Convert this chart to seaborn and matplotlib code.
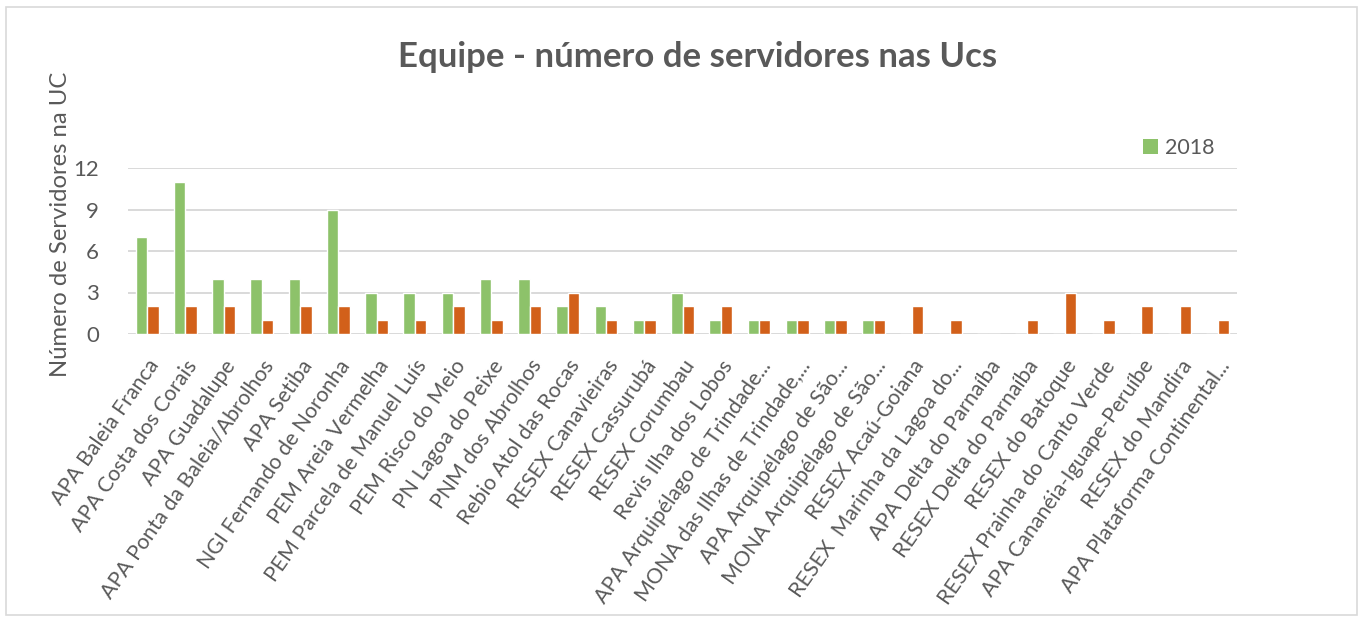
import matplotlib
matplotlib.use("Agg")
import matplotlib.pyplot as plt
import seaborn as sns
import pandas as pd
from matplotlib.patches import Rectangle, Patch

categories = [
    "APA Baleia Franca", "APA Costa dos Corais", "APA Guadalupe",
    "APA Ponta da Baleia/Abrolhos", "APA Setiba", "NGI Fernando de Noronha",
    "PEM Areia Vermelha", "PEM Parcela de Manuel Luís", "PEM Risco do Meio",
    "PN Lagoa do Peixe", "PNM dos Abrolhos", "Rebio Atol das Rocas",
    "RESEX Canavieiras", "RESEX Cassurubá", "RESEX Corumbau",
    "Revis Ilha dos Lobos", "APA Arquipélago de Trindade...",
    "MONA das Ilhas de Trindade,...", "APA Arquipélago de São...",
    "MONA Arquipélago de São...", "RESEX Acaú-Goiana",
    "RESEX  Marinha da Lagoa do...", "APA Delta do Parnaíba",
    "RESEX Delta do Parnaíba", "RESEX do Batoque",
    "RESEX Prainha do Canto Verde", "APA Cananéia-Iguape-Peruíbe",
    "RESEX do Mandira", "APA Plataforma Continental...",
]
values_2018 = [7, 11, 4, 4, 4, 9, 3, 3, 3, 4, 4, 2, 2, 1, 3, 1, 1, 1, 1, 1,
               0, 0, 0, 0, 0, 0, 0, 0, 0]
values_2019 = [2, 2, 2, 1, 2, 2, 1, 1, 2, 1, 2, 3, 1, 1, 2, 2, 1, 1, 1, 1,
               2, 1, 0, 1, 3, 1, 2, 2, 1]
series_names = ["2018", "2019"]
yticks = [0, 3, 6, 9, 12]

GREEN = "#8DC26A"
ORANGE = "#D2601A"
TEXT = "#595959"
GRID = "#D9D9D9"

df = pd.DataFrame({
    "UC": categories * 2,
    "Ano": [series_names[0]] * len(categories) + [series_names[1]] * len(categories),
    "Servidores": values_2018 + values_2019,
})

sns.set_theme(style="white")
plt.rcParams["font.family"] = ["Lato", "DejaVu Sans"]

fig = plt.figure(figsize=(13.63, 6.22), dpi=100)
ax = fig.add_axes([128 / 1363, 1 - 334 / 622, (1237 - 128) / 1363, (334 - 168) / 622])

sns.barplot(data=df, x="UC", y="Servidores", hue="Ano", order=categories,
            hue_order=series_names, palette=[GREEN, ORANGE], width=0.6,
            gap=0, saturation=1, ax=ax, legend=False, zorder=3)

ax.set_ylim(0, 12)
ax.set_xlim(-0.5, len(categories) - 0.5)
ax.set_yticks(yticks)
ax.set_yticklabels([str(t) for t in yticks], fontsize=16, color=TEXT)
ax.yaxis.grid(True, color=GRID, linewidth=1.4, zorder=0)
ax.set_axisbelow(True)
for s in ax.spines.values():
    s.set_visible(False)
ax.tick_params(axis="both", length=0)
ax.tick_params(axis="y", pad=21)
ax.tick_params(axis="x", pad=16)
ax.set_xlabel("")
ax.set_ylabel("")
ax.set_xticklabels(categories, rotation=55, ha="right", rotation_mode="anchor",
                   fontsize=15.3, color=TEXT)

fig.text(61 / 1363, 1 - 224 / 622, "Número de Servidores na UC", rotation=90,
         ha="center", va="center", fontsize=17.2, color=TEXT)
fig.text(698 / 1363, 1 - 57 / 622, "Equipe - número de servidores nas Ucs",
         ha="center", va="center", fontsize=25, fontweight="bold", color=TEXT)

handles = [Patch(facecolor=GREEN, edgecolor="none", label=series_names[0])]
fig.legend(handles=handles, loc="center left",
           bbox_to_anchor=(1143 / 1363, 1 - 148 / 622), frameon=False,
           borderpad=0, borderaxespad=0,
           fontsize=15.5, labelcolor=TEXT, handlelength=0.7, handleheight=0.7,
           handletextpad=0.3)

fig.patches.append(Rectangle((6 / 1363, 1 - 615 / 622), 1351 / 1363, 608 / 622,
                             transform=fig.transFigure, fill=False,
                             edgecolor=GRID, linewidth=1.2))

fig.savefig("out.png", dpi=100)
